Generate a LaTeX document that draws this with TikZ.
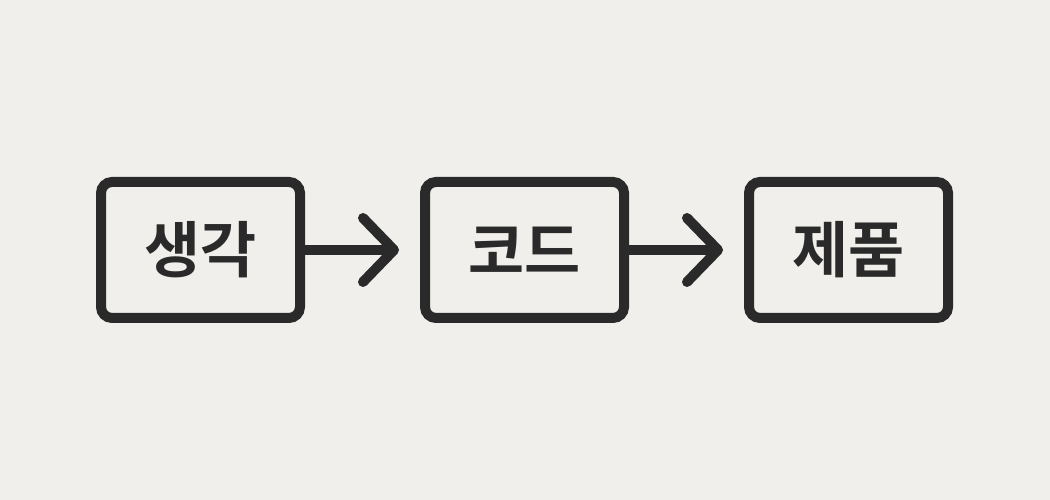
\documentclass[tikz,border=0pt]{standalone}
\usepackage{fontspec}
\newfontfamily\krfont{Noto Sans CJK KR}[BoldFont={* Bold}]
\usetikzlibrary{positioning,arrows.meta}
\definecolor{paper}{HTML}{F0EFEB}
\definecolor{ink}{HTML}{2A2A2A}
\tikzset{
  stepbox/.style={draw=ink, line width=10pt, rounded corners=11pt,
    minimum width=199pt, minimum height=136pt, inner sep=0pt,
    text=ink, font=\krfont\bfseries\fontsize{61pt}{61pt}\selectfont},
  link/.style={draw=ink, line width=10pt, line cap=round,
    shorten >=21pt,
    -{Straight Barb[length=31pt, width=64pt, line width=10pt, round]}}
}

\begin{document}
\begin{tikzpicture}[x=1pt, y=1pt, node distance=115pt]
      \fill[paper] (0,0) rectangle (1050,500);
      \useasboundingbox (0,0) rectangle (1050,500);

      \node[stepbox] (think) at (200.5,250) {\raisebox{-2pt}{생각}};
      \node[stepbox, right=of think] (code) {\raisebox{-2pt}{코드}};
      \node[stepbox, right=of code] (product) {\raisebox{-2pt}{제품}};

      \draw[link] (think) -- (code);
      \draw[link] (code) -- (product);
    \end{tikzpicture}
\end{document}
